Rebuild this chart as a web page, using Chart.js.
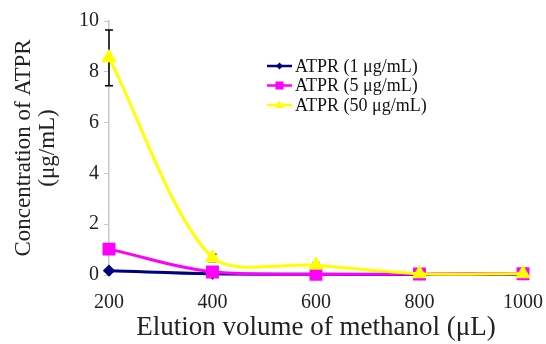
<!DOCTYPE html>
<html>
<head>
<meta charset="utf-8">
<script src="https://cdn.jsdelivr.net/npm/chart.js@4"></script>
<style>
  body { margin: 0; background: #fff; }
  #wrap { width: 546px; height: 344px; }
</style>
</head>
<body>
<div id="wrap"><canvas id="chart" width="546" height="344"></canvas></div>
<script>
const volumes = [200, 400, 600, 800, 1000];
const atpr1 = [0.17, 0.05, 0.03, 0.02, 0.02];
const atpr5 = [1.02, 0.12, 0.03, 0.04, 0.05];
const atpr50 = [8.55, 0.67, 0.38, 0.05, 0.05];
const atpr50Err = [1.1, 0.15, 0.08, 0, 0];
const seriesNames = ["ATPR (1 μg/mL)", "ATPR (5 μg/mL)", "ATPR (50 μg/mL)"];

const serif = "'Liberation Serif', 'Times New Roman', serif";

const toPoints = (vals) => vals.map((v, i) => ({ x: volumes[i], y: v }));

// error bars for the 50 ug/mL series, drawn under the lines
const errorBars = {
  id: "errorBars",
  beforeDatasetsDraw(chart) {
    const { ctx, scales } = chart;
    ctx.save();
    ctx.strokeStyle = "#000";
    ctx.lineWidth = 1.5;
    atpr50.forEach((v, i) => {
      if (!atpr50Err[i]) return;
      const x = scales.x.getPixelForValue(volumes[i]);
      const top = scales.y.getPixelForValue(v + atpr50Err[i]);
      const bot = scales.y.getPixelForValue(v - atpr50Err[i]);
      ctx.beginPath();
      ctx.moveTo(x, top); ctx.lineTo(x, bot);
      ctx.moveTo(x - 4, top); ctx.lineTo(x + 4, top);
      ctx.moveTo(x - 4, bot); ctx.lineTo(x + 4, bot);
      ctx.stroke();
    });
    ctx.restore();
  }
};

// legend drawn by hand inside the plot area
const plotLegend = {
  id: "plotLegend",
  afterDraw(chart) {
    const { ctx } = chart;
    ctx.save();
    ctx.font = "18px " + serif;
    ctx.textBaseline = "middle";
    chart.data.datasets.forEach((ds, i) => {
      const y = 66 + i * 19.5;
      ctx.strokeStyle = ds.borderColor;
      ctx.lineWidth = 2.5;
      ctx.beginPath();
      ctx.moveTo(267, y); ctx.lineTo(292, y);
      ctx.stroke();
      ctx.fillStyle = ds.backgroundColor;
      const cx = 279.5;
      ctx.beginPath();
      if (ds.pointStyle === "rectRot") {
        ctx.moveTo(cx, y - 3.5); ctx.lineTo(cx + 3.5, y); ctx.lineTo(cx, y + 3.5); ctx.lineTo(cx - 3.5, y);
      } else if (ds.pointStyle === "rect") {
        ctx.rect(cx - 4, y - 4, 8, 8);
      } else {
        ctx.moveTo(cx, y - 4.5); ctx.lineTo(cx + 4.5, y + 3); ctx.lineTo(cx - 4.5, y + 3);
      }
      ctx.closePath();
      ctx.fill();
      ctx.fillStyle = "#111";
      ctx.fillText(seriesNames[i], 295, y + 1);
    });
    ctx.restore();
  }
};

new Chart(document.getElementById("chart"), {
  type: "line",
  data: {
    datasets: [
      {
        label: seriesNames[0],
        data: toPoints(atpr1),
        borderColor: "#000080",
        backgroundColor: "#000080",
        borderWidth: 3,
        pointStyle: "rectRot",
        pointRadius: 4,
        tension: 0.4,
        clip: false,
        order: 3,
      },
      {
        label: seriesNames[1],
        data: toPoints(atpr5),
        borderColor: "#ff00ff",
        backgroundColor: "#ff00ff",
        borderWidth: 3,
        pointStyle: "rect",
        pointRadius: 7,
        tension: 0.4,
        clip: false,
        order: 2,
      },
      {
        label: seriesNames[2],
        data: toPoints(atpr50),
        borderColor: "#ffff00",
        backgroundColor: "#ffff00",
        borderWidth: 3,
        pointStyle: "triangle",
        pointRadius: 6,
        tension: 0.3,
        clip: false,
        order: 1,
      },
    ],
  },
  options: {
    responsive: false,
    animation: false,
    layout: { padding: { top: 21, right: 23, left: 0, bottom: 0 } },
    plugins: {
      legend: { display: false },
      tooltip: { enabled: false },
    },
    elements: { point: { borderWidth: 0 } },
    scales: {
      x: {
        type: "linear",
        min: 200,
        max: 1000,
        border: { display: false },
        grid: { display: false },
        ticks: {
          stepSize: 200,
          color: "#222",
          font: { family: serif, size: 20 },
          padding: 8,
          callback: (v) => String(v),
        },
        title: {
          display: true,
          text: "Elution volume of methanol (μL)",
          color: "#222",
          font: { family: serif, size: 27, lineHeight: 1.2 },
          padding: { top: 0, bottom: 0 },
        },
        afterFit(scale) {
          scale.height = 69;
          scale.paddingRight = 0;
          scale.paddingLeft = 0;
        },
      },
      y: {
        min: 0,
        max: 10,
        border: { display: true, color: "#c8c8c8", width: 1.5 },
        grid: { drawOnChartArea: false, color: "#c8c8c8", tickLength: 5 },
        ticks: {
          stepSize: 2,
          color: "#222",
          font: { family: serif, size: 20 },
          padding: 5,
        },
        title: {
          display: true,
          text: ["Concentration of ATPR", "(μg/mL)"],
          color: "#222",
          font: { family: serif, size: 23, lineHeight: 1.05 },
          padding: { top: 12, bottom: 6 },
        },
        afterFit(scale) { scale.width = 109; },
      },
    },
  },
  plugins: [errorBars, plotLegend],
});
</script>
</body>
</html>
